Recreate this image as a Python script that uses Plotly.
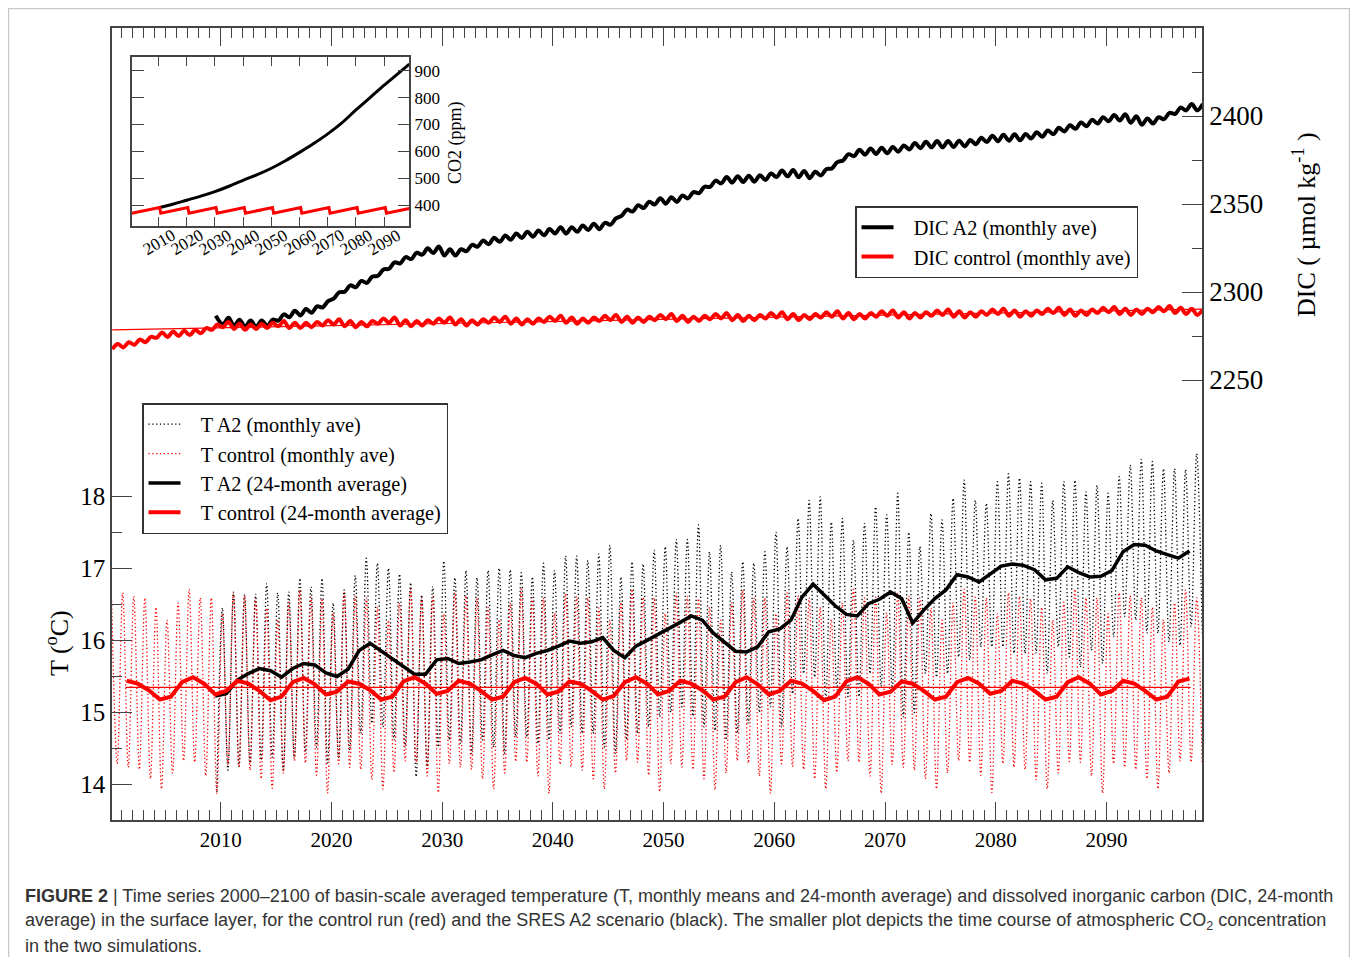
import plotly.graph_objects as go

# ------------------------------------------------------------------ data
# Temperature, monthly means: yearly summer maxima (at ~year+0.15) and winter minima (~year+0.65)
t_ctrl_max_years = list(range(2000, 2099))
t_ctrl_max = [
    16.55, 16.66, 16.61, 16.59, 16.46, 16.28, 16.52, 16.71, 16.59, 16.59,
    16.37, 16.65, 16.62, 16.58, 16.45, 16.29, 16.53, 16.70, 16.60, 16.58,
    16.38, 16.66, 16.61, 16.59, 16.46, 16.28, 16.52, 16.71, 16.59, 16.60,
    16.37, 16.66, 16.62, 16.58, 16.46, 16.29, 16.52, 16.71, 16.59, 16.59,
    16.38, 16.65, 16.61, 16.59, 16.45, 16.28, 16.53, 16.71, 16.60, 16.59,
    16.37, 16.66, 16.61, 16.58, 16.46, 16.28, 16.52, 16.70, 16.59, 16.59,
    16.37, 16.66, 16.62, 16.59, 16.46, 16.29, 16.52, 16.71, 16.59, 16.60,
    16.38, 16.65, 16.61, 16.59, 16.45, 16.28, 16.52, 16.71, 16.60, 16.59,
    16.37, 16.66, 16.61, 16.58, 16.46, 16.28, 16.53, 16.71, 16.59, 16.59,
    16.37, 16.66, 16.62, 16.59, 16.46, 16.29, 16.52, 16.70, 16.59,
]
t_ctrl_min_years = list(range(2000, 2099))
t_ctrl_min = [
    14.29, 14.24, 14.21, 14.08, 13.94, 14.16, 14.33, 14.31, 14.12, 13.88,
    14.28, 14.25, 14.20, 14.08, 13.95, 14.16, 14.33, 14.30, 14.13, 13.88,
    14.29, 14.24, 14.21, 14.07, 13.94, 14.17, 14.33, 14.31, 14.12, 13.89,
    14.29, 14.24, 14.21, 14.08, 13.94, 14.16, 14.32, 14.31, 14.12, 13.88,
    14.28, 14.25, 14.20, 14.08, 13.94, 14.16, 14.33, 14.31, 14.13, 13.90,
    14.29, 14.24, 14.21, 14.08, 13.93, 14.16, 14.33, 14.30, 14.12, 13.88,
    14.29, 14.25, 14.21, 14.08, 13.94, 14.17, 14.33, 14.31, 14.12, 13.88,
    14.28, 14.24, 14.20, 14.08, 13.94, 14.16, 14.33, 14.31, 14.13, 13.89,
    14.29, 14.24, 14.21, 14.07, 13.94, 14.16, 14.32, 14.31, 14.12, 13.88,
    14.29, 14.24, 14.21, 14.08, 13.94, 14.16, 14.33, 14.31, 14.29,
]
t_a2_max_years = list(range(2010, 2099))
t_a2_max = [
    16.45, 16.67, 16.63, 16.64, 16.79, 16.66, 16.67, 16.86, 16.74, 16.86,
    16.52, 16.70, 16.90, 17.14, 17.07, 17.00, 16.92, 16.80, 16.63, 16.75,
    17.10, 16.87, 16.97, 16.87, 16.97, 17.00, 16.98, 16.94, 16.88, 17.07,
    16.97, 17.17, 17.17, 17.11, 17.20, 17.32, 16.88, 17.09, 17.06, 17.25,
    17.30, 17.40, 17.40, 17.60, 17.23, 17.32, 16.95, 17.09, 17.07, 17.23,
    17.50, 17.30, 17.69, 17.94, 17.99, 17.64, 17.69, 17.39, 17.62, 17.85,
    17.74, 18.04, 17.50, 17.30, 17.76, 17.67, 17.97, 18.22, 17.94, 17.90,
    18.20, 18.31, 18.25, 18.20, 18.18, 17.94, 18.20, 18.22, 18.06, 18.15,
    18.04, 18.27, 18.43, 18.51, 18.48, 18.38, 18.38, 18.37, 18.59,
]
t_a2_min_years = list(range(2009, 2099))
t_a2_min = [
    13.90,
    14.20, 14.25, 14.30, 14.34, 14.38, 14.20, 14.38, 14.45, 14.52, 14.30,
    14.38, 14.48, 14.71, 14.85, 14.80, 14.62, 14.52, 14.11, 14.25, 14.52,
    14.62, 14.57, 14.43, 14.62, 14.52, 14.43, 14.66, 14.66, 14.57, 14.62,
    14.71, 14.80, 14.71, 14.71, 14.52, 14.43, 14.62, 14.71, 14.80, 14.94,
    15.00, 15.08, 14.95, 14.80, 14.75, 14.62, 14.71, 14.85, 15.00, 15.08,
    14.80, 15.26, 15.54, 15.49, 15.17, 15.31, 15.22, 15.22, 15.54, 15.36,
    15.31, 14.94, 15.00, 15.54, 15.49, 15.54, 15.77, 15.73, 15.91, 15.91,
    15.91, 15.82, 15.82, 15.82, 15.54, 15.91, 15.77, 15.63, 15.86, 15.68,
    16.05, 16.33, 16.28, 16.10, 16.10, 15.98, 15.93, 16.19, 16.10,
]

# Temperature, 24-month running averages (mid-year values)
t_ctrl_24_years = [y + 0.5 for y in range(2001, 2098)]
t_ctrl_24 = [
    15.44, 15.40, 15.31, 15.18, 15.22, 15.42, 15.49, 15.40, 15.25,
    15.30, 15.44, 15.40, 15.30, 15.17, 15.22, 15.42, 15.48, 15.39, 15.25,
    15.29, 15.43, 15.40, 15.31, 15.18, 15.22, 15.43, 15.49, 15.40, 15.26,
    15.30, 15.44, 15.40, 15.30, 15.18, 15.22, 15.42, 15.48, 15.40, 15.25,
    15.29, 15.43, 15.40, 15.30, 15.18, 15.23, 15.42, 15.49, 15.40, 15.25,
    15.30, 15.44, 15.40, 15.31, 15.18, 15.22, 15.42, 15.49, 15.39, 15.25,
    15.30, 15.44, 15.40, 15.30, 15.17, 15.22, 15.43, 15.49, 15.40, 15.25,
    15.29, 15.43, 15.40, 15.30, 15.18, 15.22, 15.42, 15.48, 15.40, 15.26,
    15.30, 15.44, 15.40, 15.30, 15.18, 15.22, 15.42, 15.49, 15.40, 15.25,
    15.30, 15.44, 15.40, 15.30, 15.18, 15.22, 15.43, 15.47,
]
t_a2_24_years = [y + 0.5 for y in range(2009, 2098)]
t_a2_24 = [
    15.23,
    15.26, 15.45, 15.54, 15.61, 15.58, 15.49, 15.61, 15.68, 15.66, 15.55,
    15.50, 15.60, 15.86, 15.96, 15.85, 15.75, 15.64, 15.53, 15.53, 15.73,
    15.75, 15.68, 15.70, 15.73, 15.80, 15.86, 15.79, 15.76, 15.82, 15.86,
    15.92, 15.99, 15.96, 15.98, 16.04, 15.86, 15.76, 15.92, 16.00, 16.08,
    16.17, 16.25, 16.34, 16.28, 16.10, 15.97, 15.85, 15.84, 15.91, 16.12,
    16.16, 16.28, 16.60, 16.78, 16.63, 16.48, 16.36, 16.34, 16.51, 16.57,
    16.67, 16.58, 16.24, 16.42, 16.58, 16.70, 16.91, 16.88, 16.81, 16.92,
    17.03, 17.06, 17.04, 16.98, 16.84, 16.86, 17.02, 16.94, 16.88, 16.89,
    16.97, 17.23, 17.33, 17.32, 17.24, 17.19, 17.14, 17.24,
]
t_ctrl_mean = 15.35
t_ctrl_mean_span = [2001.4, 2097.6]

# DIC (umol/kg), monthly averages: seasonal low (~year+0.2) and high (~year+0.7)
dic_ctrl_years = list(range(2000, 2099))
dic_ctrl_low = [
    2267.5, 2268.5, 2270.0, 2271.5, 2274.0, 2274.5, 2275.0, 2275.5, 2276.5, 2278.5,
    2280.0, 2279.0, 2278.5, 2279.0, 2279.5, 2280.5, 2279.5, 2279.5, 2280.0, 2281.0,
    2281.5, 2280.5, 2280.0, 2280.5, 2282.0, 2282.5, 2281.0, 2280.5, 2281.0, 2282.0,
    2282.5, 2281.5, 2281.0, 2281.5, 2282.5, 2283.0, 2282.0, 2281.5, 2282.0, 2283.0,
    2283.5, 2282.5, 2282.0, 2282.5, 2283.5, 2284.0, 2283.0, 2282.5, 2283.0, 2284.0,
    2284.5, 2283.5, 2283.0, 2283.5, 2284.5, 2285.0, 2284.0, 2283.5, 2284.0, 2285.0,
    2285.5, 2284.5, 2284.0, 2284.5, 2285.5, 2286.0, 2285.0, 2284.5, 2285.0, 2286.0,
    2286.5, 2285.5, 2285.0, 2285.5, 2286.5, 2287.0, 2286.0, 2285.5, 2286.0, 2287.0,
    2287.5, 2286.5, 2286.0, 2286.5, 2287.5, 2288.0, 2287.0, 2286.5, 2287.0, 2288.0,
    2288.5, 2287.5, 2287.0, 2287.5, 2288.5, 2289.0, 2288.0, 2287.5, 2287.0,
]
dic_ctrl_high = [
    2270.5, 2271.5, 2273.0, 2274.5, 2277.0, 2277.5, 2278.0, 2278.5, 2279.5, 2281.5,
    2283.0, 2282.0, 2281.5, 2282.0, 2282.5, 2283.5, 2282.5, 2282.5, 2283.0, 2284.0,
    2284.5, 2283.5, 2283.0, 2283.5, 2285.0, 2285.5, 2284.0, 2283.5, 2284.0, 2285.0,
    2285.5, 2284.5, 2284.0, 2284.5, 2285.5, 2286.0, 2285.0, 2284.5, 2285.0, 2286.0,
    2286.5, 2285.5, 2285.0, 2285.5, 2286.5, 2287.0, 2286.0, 2285.5, 2286.0, 2287.0,
    2287.5, 2286.5, 2286.0, 2286.5, 2287.5, 2288.0, 2287.0, 2286.5, 2287.0, 2288.0,
    2288.5, 2287.5, 2287.0, 2287.5, 2288.5, 2289.0, 2288.0, 2287.5, 2288.0, 2289.0,
    2289.5, 2288.5, 2288.0, 2288.5, 2289.5, 2290.0, 2289.0, 2288.5, 2289.0, 2290.0,
    2290.5, 2289.5, 2289.0, 2289.5, 2290.5, 2291.0, 2290.0, 2289.5, 2290.0, 2291.0,
    2291.5, 2290.5, 2290.0, 2290.5, 2291.5, 2292.0, 2291.0, 2290.5, 2290.0,
]
dic_a2_start = (2009.55, 2286.5)
dic_a2_years = list(range(2010, 2099))
dic_a2_low = [
    2281.7, 2280.7, 2280.2, 2280.2, 2280.7, 2283.7, 2285.7, 2286.7, 2288.2, 2291.2,
    2296.2, 2300.2, 2302.7, 2305.2, 2309.2, 2313.2, 2316.2, 2318.7, 2321.2, 2322.2,
    2320.7, 2320.7, 2323.2, 2325.7, 2327.2, 2328.5, 2329.7, 2330.7, 2331.4, 2332.2,
    2333.2, 2333.2, 2334.2, 2335.2, 2335.7, 2338.2, 2343.2, 2345.7, 2347.7, 2349.7,
    2350.2, 2351.2, 2353.2, 2356.2, 2359.7, 2361.7, 2362.2, 2362.5, 2362.7, 2363.7,
    2365.4, 2365.7, 2365.2, 2364.7, 2366.2, 2370.2, 2374.7, 2377.2, 2378.0, 2378.4,
    2378.8, 2379.7, 2381.0, 2381.7, 2382.2, 2382.2, 2382.4, 2382.7, 2384.0, 2385.2,
    2385.7, 2386.0, 2386.2, 2387.2, 2388.2, 2389.7, 2391.2, 2392.7, 2394.2, 2395.7,
    2397.0, 2397.4, 2396.2, 2395.0, 2395.7, 2398.2, 2401.2, 2403.2, 2403.2,
]
dic_a2_high = [
    2285.3, 2284.3, 2283.8, 2283.8, 2284.3, 2287.3, 2289.3, 2290.3, 2291.8, 2294.8,
    2299.8, 2303.8, 2306.3, 2308.8, 2312.8, 2316.8, 2319.8, 2322.3, 2324.8, 2325.8,
    2324.3, 2324.3, 2326.8, 2329.3, 2330.8, 2332.1, 2333.3, 2334.3, 2335.0, 2335.8,
    2336.8, 2336.8, 2337.8, 2338.8, 2339.3, 2341.8, 2346.8, 2349.3, 2351.3, 2353.3,
    2353.8, 2354.8, 2356.8, 2359.8, 2363.3, 2365.3, 2365.8, 2366.1, 2366.3, 2367.3,
    2369.0, 2369.3, 2368.8, 2368.3, 2369.8, 2373.8, 2378.3, 2380.8, 2381.6, 2382.0,
    2382.4, 2383.3, 2384.6, 2385.3, 2385.8, 2385.8, 2386.0, 2386.3, 2387.6, 2388.8,
    2389.3, 2389.6, 2389.8, 2390.8, 2391.8, 2393.3, 2394.8, 2396.3, 2397.8, 2399.3,
    2400.6, 2401.0, 2399.8, 2398.6, 2399.3, 2401.8, 2404.8, 2406.8, 2406.8,
]
dic_ctrl_trend_years = [2000.2, 2098.6]
dic_ctrl_trend = [2278.5, 2290.3]

# Inset: atmospheric CO2 (ppm)
co2_a2_years = [2010, 2015, 2020, 2025, 2030, 2035, 2040, 2045, 2050, 2055,
                2060, 2065, 2070, 2075, 2080, 2085, 2090, 2095, 2098.9]
co2_a2 = [390, 403, 418, 433, 450, 470, 492, 513, 537, 565,
          596, 629, 665, 706, 754, 800, 846, 890, 924]
co2_ctrl_years = [2000.5, 2010.4, 2010.8, 2020.4, 2020.8, 2030.4, 2030.8, 2040.4,
                  2040.8, 2050.4, 2050.8, 2060.4, 2060.8, 2070.4, 2070.8, 2080.4,
                  2080.8, 2090.4, 2090.8, 2098.9]
co2_ctrl = [369.5, 391.0, 369.5, 391.0, 369.5, 391.0, 369.5, 391.0,
            369.5, 391.0, 369.5, 391.0, 369.5, 391.0, 369.5, 391.0,
            369.5, 391.0, 369.5, 387.3]

# Axis ticks
x_major = [2010, 2020, 2030, 2040, 2050, 2060, 2070, 2080, 2090]
t_ticks = [14, 15, 16, 17, 18]
t_minor = [14.5, 15.5, 16.5, 17.5]
dic_ticks = [2250, 2300, 2350, 2400]
dic_minor = [2275, 2325, 2375, 2425]
co2_ticks = [400, 500, 600, 700, 800, 900]

# ------------------------------------------------------------------ helpers
# The page body adds an 8 px margin; the figure is sized so the plot lands on the
# reference pixels (PL..PR, PT..PB are positions in the 1358x957 reference picture).
OFF = 8
W, H = 1358 - OFF, 957 - OFF
PL, PR, PT, PB = 112, 1202, 28, 820


def px(x):
    return (x - PL) / (PR - PL)


def py(y):
    return (PB - y) / (PB - PT)


def seasonal(first_years, first_vals, first_off, second_years, second_vals, second_off):
    pts = [(y + first_off, v) for y, v in zip(first_years, first_vals)]
    pts += [(y + second_off, v) for y, v in zip(second_years, second_vals)]
    pts.sort()
    return [p[0] for p in pts], [p[1] for p in pts]


SERIF = "Liberation Serif, Times New Roman, serif"
AX = "#444444"
RED = "#ff0000"
GAP = "\u00a0\u00a0\u00a0"

fig = go.Figure()

# ---- DIC (right axis)
x, y = seasonal(dic_a2_years, dic_a2_low, 0.2, dic_a2_years, dic_a2_high, 0.7)
x = [dic_a2_start[0]] + x
y = [dic_a2_start[1]] + y
fig.add_trace(go.Scatter(x=x, y=y, yaxis="y2", mode="lines", name=GAP + "DIC A2 (monthly ave)",
                         line=dict(color="black", width=4, shape="spline"), legend="legend"))
x, y = seasonal(dic_ctrl_years, dic_ctrl_low, 0.2, dic_ctrl_years, dic_ctrl_high, 0.7)
fig.add_trace(go.Scatter(x=x, y=y, yaxis="y2", mode="lines",
                         name=GAP + "DIC control (monthly ave)",
                         line=dict(color=RED, width=4, shape="spline"), legend="legend"))
fig.add_trace(go.Scatter(x=dic_ctrl_trend_years, y=dic_ctrl_trend, yaxis="y2", mode="lines",
                         line=dict(color=RED, width=1.2), showlegend=False, hoverinfo="skip"))

# ---- Temperature (left axis)
x, y = seasonal(t_a2_max_years, t_a2_max, 0.15, t_a2_min_years, t_a2_min, 0.65)
fig.add_trace(go.Scatter(x=x, y=y, mode="lines", name=GAP + "T A2 (monthly ave)",
                         line=dict(color="black", width=1.3, dash="1.3px,2.5px", shape="spline"),
                         legend="legend2"))
x, y = seasonal(t_ctrl_max_years, t_ctrl_max, 0.15, t_ctrl_min_years, t_ctrl_min, 0.65)
fig.add_trace(go.Scatter(x=x, y=y, mode="lines", name=GAP + "T control (monthly ave)",
                         line=dict(color=RED, width=1.3, dash="1.3px,2.5px", shape="spline"),
                         legend="legend2"))
fig.add_trace(go.Scatter(x=t_ctrl_mean_span, y=[t_ctrl_mean, t_ctrl_mean], mode="lines",
                         line=dict(color=RED, width=1.2), showlegend=False, hoverinfo="skip"))
fig.add_trace(go.Scatter(x=t_a2_24_years, y=t_a2_24, mode="lines",
                         name=GAP + "T A2 (24-month average)",
                         line=dict(color="black", width=3.5), legend="legend2"))
fig.add_trace(go.Scatter(x=t_ctrl_24_years, y=t_ctrl_24, mode="lines",
                         name=GAP + "T control (24-month average)",
                         line=dict(color=RED, width=4), legend="legend2"))

# ---- Inset CO2
fig.add_trace(go.Scatter(x=co2_a2_years, y=co2_a2, xaxis="x2", yaxis="y3", mode="lines",
                         line=dict(color="black", width=3, shape="spline"), showlegend=False))
fig.add_trace(go.Scatter(x=co2_ctrl_years, y=co2_ctrl, xaxis="x2", yaxis="y3", mode="lines",
                         line=dict(color=RED, width=3), showlegend=False))

axis_common = dict(showline=True, linecolor=AX, linewidth=1.6, showgrid=False, zeroline=False,
                   ticks="inside", tickcolor=AX, tickwidth=1.4)

fig.update_layout(
    width=W, height=H,
    margin=dict(l=PL - OFF, r=W - (PR - OFF), t=PT - OFF, b=H - (PB - OFF)),
    paper_bgcolor="white", plot_bgcolor="white",
    font=dict(family=SERIF, color="black"),
    xaxis=dict(**axis_common, range=[2000.18, 2098.63], mirror="ticks",
               tickmode="array", tickvals=x_major, ticklen=18,
               tickfont=dict(size=21),
               minor=dict(dtick=1, tick0=2000, ticks="inside", ticklen=10,
                          tickcolor=AX, tickwidth=1.2)),
    yaxis=dict(**axis_common, range=[13.51, 24.49], tickmode="array", tickvals=t_ticks,
               ticklen=20, tickfont=dict(size=25),
               minor=dict(tickmode="array", tickvals=t_minor, ticks="inside", ticklen=10,
                          tickcolor=AX, tickwidth=1.2)),
    yaxis2=dict(**axis_common, overlaying="y", side="right", range=[2000, 2450],
                tickmode="array", tickvals=dic_ticks, ticklen=20, tickfont=dict(size=27),
                minor=dict(tickmode="array", tickvals=dic_minor, ticks="inside", ticklen=10,
                           tickcolor=AX, tickwidth=1.2)),
    xaxis2=dict(**axis_common, domain=[px(131.7), px(409.3)], anchor="y3",
                range=[2000.5, 2098.9], mirror="ticks", tickmode="array", tickvals=x_major,
                ticklen=9, showticklabels=False),
    yaxis3=dict(**axis_common, domain=[py(226), py(57)], anchor="x2", side="right",
                range=[322, 951], mirror="ticks", tickmode="array", tickvals=co2_ticks,
                ticklen=12, tickfont=dict(size=17)),
    legend=dict(x=px(855), y=py(206), xanchor="left", yanchor="top",
                bordercolor="#333333", borderwidth=1.5, bgcolor="white",
                font=dict(family=SERIF, size=20.3), itemwidth=32, tracegroupgap=0),
    legend2=dict(x=px(142), y=py(403), xanchor="left", yanchor="top",
                 bordercolor="#333333", borderwidth=1.5, bgcolor="white",
                 font=dict(family=SERIF, size=20.3), itemwidth=32, tracegroupgap=0),
)

ann = []
ann.append(dict(x=px(57), y=py(643), xref="paper", yref="paper", text="T (<sup>o</sup>C)",
                xanchor="center", yanchor="middle",
                textangle=-90, showarrow=False, font=dict(family=SERIF, size=26)))
ann.append(dict(x=px(1305), y=py(225), xref="paper", yref="paper",
                xanchor="center", yanchor="middle",
                text="DIC ( µmol kg<sup>-1</sup> )", textangle=-90, showarrow=False,
                font=dict(family=SERIF, size=26)))
ann.append(dict(x=px(455), y=py(143), xref="paper", yref="paper", text="CO2 (ppm)",
                xanchor="center", yanchor="middle",
                textangle=-90, showarrow=False, font=dict(family=SERIF, size=18)))
for yr in x_major:
    ann.append(dict(x=yr, y=py(242), xref="x2", yref="paper", text=str(yr), textangle=-30,
                    xanchor="center", yanchor="middle",
                    showarrow=False, font=dict(family=SERIF, size=17)))

SANS = "Liberation Sans, Arial, sans-serif"
caption = [
    "<b>FIGURE 2</b> | Time series 2000–2100 of basin-scale averaged temperature (T, monthly means "
    "and 24-month average) and dissolved inorganic carbon (DIC, 24-month",
    "average) in the surface layer, for the control run (red) and the SRES A2 scenario (black). "
    "The smaller plot depicts the time course of atmospheric CO<sub>2</sub> concentration",
    "in the two simulations.",
]
for i, line in enumerate(caption):
    ann.append(dict(x=px(23), y=py(896 + 25 * i), xref="paper", yref="paper", text=line,
                    xanchor="left", yanchor="middle", showarrow=False,
                    font=dict(family=SANS, size=18, color="#333333")))
fig.update_layout(annotations=ann)

fig.add_shape(type="rect", xref="paper", yref="paper", x0=px(8.5), x1=px(1349.5),
              y0=py(975), y1=py(8.5), line=dict(color="#c8c8c8", width=1.5), layer="below")

fig.write_html("out.html")
